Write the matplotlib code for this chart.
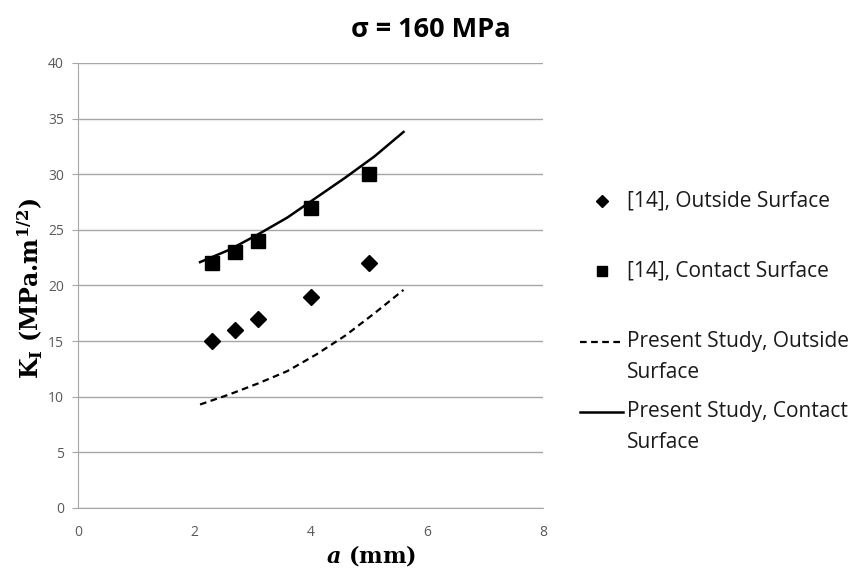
import matplotlib
matplotlib.use("Agg")
import matplotlib.pyplot as plt
from matplotlib.legend_handler import HandlerLine2D

# reference data [14]
ref_a = [2.3, 2.7, 3.1, 4.0, 5.0]
ref_outside = [15, 16, 17, 19, 22]
ref_contact = [22, 23, 24, 27, 30]

# present study curves
study_a = [2.1, 2.6, 3.1, 3.6, 4.1, 4.6, 5.1, 5.6]
study_outside = [9.3, 10.2, 11.2, 12.3, 13.8, 15.5, 17.5, 19.6]
study_contact = [22.1, 23.2, 24.6, 26.1, 27.9, 29.7, 31.6, 33.8]

plt.rcParams["mathtext.fontset"] = "custom"
plt.rcParams["mathtext.rm"] = "DejaVu Serif:bold"
plt.rcParams["mathtext.bf"] = "DejaVu Serif:bold"
plt.rcParams["mathtext.it"] = "DejaVu Serif:italic:bold"

SANS = "Open Sans"
SERIF = "DejaVu Serif"
GRID = "#a6a6a6"
TICK = "#595959"


class FirstLineHandler(HandlerLine2D):
    """Put the legend key level with the first line of a two-line label."""
    def create_artists(self, legend, orig_handle, xdescent, ydescent,
                       width, height, fontsize, trans):
        return super().create_artists(legend, orig_handle, xdescent,
                                      ydescent - 23, width, height,
                                      fontsize, trans)


fig = plt.figure(figsize=(8.6, 5.7), dpi=100)
ax = fig.add_axes([0.0907, 0.1088, 0.5407, 0.7807])

h1, = ax.plot(ref_a, ref_outside, "D", color="black", markersize=8,
              label="[14], Outside Surface\n")
h2, = ax.plot(ref_a, ref_contact, "s", color="black", markersize=9.5,
              label="[14], Contact Surface\n")
h3, = ax.plot(study_a, study_outside, "--", color="black", linewidth=1.6,
              dashes=(3, 2), label="Present Study, Outside\nSurface")
h4, = ax.plot(study_a, study_contact, "-", color="black", linewidth=1.8,
              label="Present Study, Contact\nSurface")

ax.set_xlim(0, 8)
ax.set_ylim(0, 40)
ax.set_xticks(range(0, 9, 2))
ax.set_yticks(range(0, 41, 5))
ax.grid(axis="y", color=GRID, linewidth=1)
ax.set_axisbelow(True)
for side in ("top", "right"):
    ax.spines[side].set_visible(False)
for side in ("left", "bottom"):
    ax.spines[side].set_color(GRID)
ax.tick_params(axis="y", length=4, color=GRID, labelcolor=TICK, labelsize=10, pad=6)
ax.tick_params(axis="x", length=0, labelcolor=TICK, labelsize=10, pad=12)
for lbl in ax.get_xticklabels() + ax.get_yticklabels():
    lbl.set_fontfamily(SANS)

ax.set_title("σ = 160 MPa", fontsize=19.5, fontweight="bold", family=SANS,
             x=0.759, y=1.0, pad=19)
ax.set_ylabel(r"K$_\mathregular{I}$ (MPa.m$^{1/2}$)", fontsize=17,
              fontweight="bold", family=SERIF)
ax.yaxis.set_label_coords(-0.072, 0.494)
ax.set_xlabel(r"$a$ (mm)", fontsize=16, fontweight="bold", family=SERIF)
ax.xaxis.set_label_coords(0.63, -0.106)
ax.xaxis.label.set_va("center")

leg = fig.legend(handles=[h1, h2, h3, h4], loc="upper left",
                 bbox_to_anchor=(0.674, 0.666), borderaxespad=0, borderpad=0,
                 frameon=False, handlelength=2.1, handletextpad=0.15,
                 labelspacing=0.9, markerscale=0.8,
                 prop={"family": SANS, "size": 15},
                 handler_map={h: FirstLineHandler() for h in (h1, h2, h3, h4)})
for t in leg.get_texts():
    t.set_linespacing(1.6)
    t.set_color("#1a1a1a")

fig.savefig("out.png", dpi=100)
